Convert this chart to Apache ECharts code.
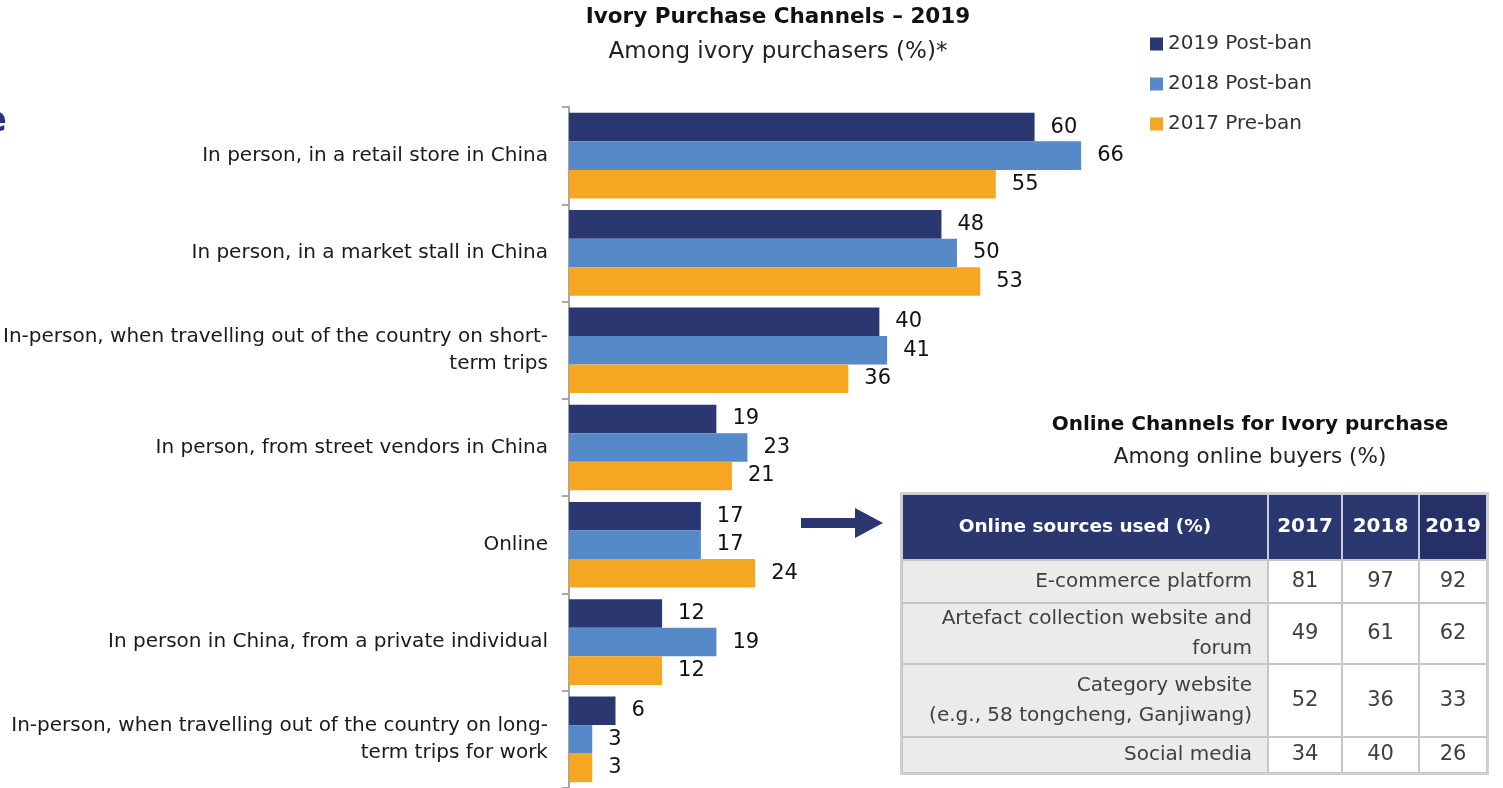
<!DOCTYPE html>
<html>
<head>
<meta charset="utf-8">
<title>Ivory Purchase Channels – 2019</title>
<script src="https://cdn.jsdelivr.net/npm/echarts@6/dist/echarts.min.js"></script>
<style>
  html, body { margin: 0; padding: 0; background: #fff; }
  #main { width: 1503px; height: 788px; }
</style>
</head>
<body>
<div id="main"></div>
<script>
// chart data
var categories = [
    'In person, in a retail store in China',
    'In person, in a market stall in China',
    'In-person, when travelling out of the country on short-\nterm trips',
    'In person, from street vendors in China',
    'Online',
    'In person in China, from a private individual',
    'In-person, when travelling out of the country on long-\nterm trips for work'
];
var seriesNames = ['2019 Post-ban', '2018 Post-ban', '2017 Pre-ban'];
var values2019 = [60, 48, 40, 19, 17, 12, 6];
var values2018 = [66, 50, 41, 23, 17, 19, 3];
var values2017 = [55, 53, 36, 21, 24, 12, 3];

// table data
var tableHeader = 'Online sources used (%)';
var tableYears = ['2017', '2018', '2019'];
var onlineSources = [
    'E-commerce platform',
    'Artefact collection website and\nforum',
    'Category website\n(e.g., 58 tongcheng, Ganjiwang)',
    'Social media'
];
var online2017 = [81, 49, 52, 34];
var online2018 = [97, 61, 36, 40];
var online2019 = [92, 62, 33, 26];

document.addEventListener('DOMContentLoaded', function() {
    var chartDom = document.getElementById('main');
    var myChart = echarts.init(chartDom);
    var option;

    var FONT = 'DejaVu Sans';
    var colors = ['#2b3770', '#5589c8', '#f5a623'];

    // table layout
    var colX = [902, 1268, 1342, 1419, 1487];
    var rowY = [494, 560, 603, 664, 737, 773];
    var tableCols = [online2017, online2018, online2019];

    var graphics = [];

    // cropped heading letter at left edge
    graphics.push({
        type: 'text',
        style: { text: 'e', x: 7, y: 122, textAlign: 'right', textVerticalAlign: 'middle',
                 fontSize: 36, fontWeight: 'bold', fontFamily: FONT, fill: '#2e3180' }
    });

    // main title
    graphics.push({
        type: 'text',
        style: { text: 'Ivory Purchase Channels – 2019', x: 778, y: 17, textAlign: 'center',
                 textVerticalAlign: 'middle', fontSize: 21.5, fontWeight: 'bold', fontFamily: FONT, fill: '#111' }
    });
    graphics.push({
        type: 'text',
        style: { text: 'Among ivory purchasers (%)*', x: 778, y: 52, textAlign: 'center',
                 textVerticalAlign: 'middle', fontSize: 23, fontFamily: FONT, fill: '#222' }
    });

    // table title
    graphics.push({
        type: 'text',
        style: { text: 'Online Channels for Ivory purchase', x: 1250, y: 425, textAlign: 'center',
                 textVerticalAlign: 'middle', fontSize: 20, fontWeight: 'bold', fontFamily: FONT, fill: '#111' }
    });
    graphics.push({
        type: 'text',
        style: { text: 'Among online buyers (%)', x: 1250, y: 457, textAlign: 'center',
                 textVerticalAlign: 'middle', fontSize: 21.5, fontFamily: FONT, fill: '#222' }
    });

    // arrow
    graphics.push({
        type: 'polygon',
        shape: { points: [[801, 518], [855, 518], [855, 508], [883, 523], [855, 538], [855, 528], [801, 528]] },
        style: { fill: '#2b3770' }
    });

    // header cells
    for (var c = 0; c < 4; c++) {
        graphics.push({
            type: 'rect',
            shape: { x: colX[c], y: rowY[0], width: colX[c + 1] - colX[c], height: rowY[1] - rowY[0] },
            style: { fill: c === 3 ? '#253066' : '#2b3870', stroke: '#c9ccd8', lineWidth: 2 }
        });
        graphics.push({
            type: 'text',
            style: { text: c === 0 ? tableHeader : tableYears[c - 1],
                     x: (colX[c] + colX[c + 1]) / 2, y: (rowY[0] + rowY[1]) / 2,
                     textAlign: 'center', textVerticalAlign: 'middle',
                     fontSize: c === 0 ? 18.5 : 20, fontWeight: 'bold', fontFamily: FONT, fill: '#fff' }
        });
    }

    // body cells
    onlineSources.forEach(function(name, r) {
        var y0 = rowY[r + 1], y1 = rowY[r + 2];
        for (var c = 0; c < 4; c++) {
            graphics.push({
                type: 'rect',
                shape: { x: colX[c], y: y0, width: colX[c + 1] - colX[c], height: y1 - y0 },
                style: { fill: c === 0 ? '#ebebeb' : '#ffffff', stroke: '#c6c6c6', lineWidth: 2 }
            });
            graphics.push({
                type: 'text',
                style: { text: c === 0 ? name : String(tableCols[c - 1][r]),
                         x: c === 0 ? colX[1] - 16 : (colX[c] + colX[c + 1]) / 2,
                         y: (y0 + y1) / 2,
                         textAlign: c === 0 ? 'right' : 'center', textVerticalAlign: 'middle',
                         lineHeight: 30, fontSize: c === 0 ? 20 : 21, fontFamily: FONT, fill: '#404040' }
            });
        }
    });

    // outer border
    graphics.push({
        type: 'rect',
        shape: { x: colX[0] - 1, y: rowY[0] - 1, width: colX[4] - colX[0] + 2, height: rowY[5] - rowY[0] + 2 },
        style: { fill: 'none', stroke: '#d0d0d0', lineWidth: 2 }
    });

    var allValues = [values2019, values2018, values2017];

    option = {
        animation: false,
        textStyle: { fontFamily: FONT },
        legend: {
            orient: 'vertical',
            left: 1150,
            top: 34,
            itemWidth: 13,
            itemHeight: 13,
            itemGap: 20,
            icon: 'rect',
            padding: 0,
            textStyle: { fontSize: 20, color: '#333', fontFamily: FONT, lineHeight: 20 },
            data: seriesNames
        },
        grid: {
            left: 567,
            top: 107,
            width: 778,
            height: 684,
            containLabel: false
        },
        xAxis: {
            type: 'value',
            min: 0,
            max: 100,
            show: false
        },
        yAxis: {
            type: 'category',
            inverse: true,
            data: categories,
            axisLine: { lineStyle: { color: '#a6a6a6', width: 2 } },
            axisTick: { show: true, length: 7, lineStyle: { color: '#a6a6a6', width: 2 } },
            axisLabel: {
                margin: 21,
                fontSize: 20,
                lineHeight: 27,
                color: '#1a1a1a',
                fontFamily: FONT,
                align: 'right'
            }
        },
        series: seriesNames.map(function(name, i) {
            return {
                name: name,
                type: 'bar',
                barGap: '0%',
                barCategoryGap: '12%',
                itemStyle: { color: colors[i] },
                label: {
                    show: true,
                    position: 'right',
                    distance: 16,
                    fontSize: 21,
                    color: '#111',
                    fontFamily: FONT
                },
                data: allValues[i]
            };
        }),
        graphic: { elements: graphics }
    };

    option && myChart.setOption(option);
});
</script>
</body>
</html>
